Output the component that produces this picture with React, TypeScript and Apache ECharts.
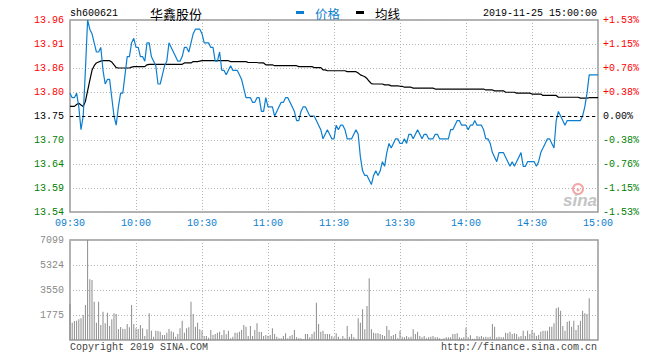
import React, { useEffect, useRef } from 'react';
import * as echarts from 'echarts';

const PREV_CLOSE = 13.75;
const STOCK_CODE = 'sh600621';
const STOCK_NAME = '华鑫股份';
const DATE_TEXT = '2019-11-25 15:00:00';
const TIME_LABELS = ['09:30', '10:00', '10:30', '11:00', '11:30', '13:30', '14:00', '14:30', '15:00'];

const price = [
  13.80, 13.79, 13.79, 13.80, 13.77, 13.72, 13.75, 13.85, 13.96, 13.94,
  13.93, 13.91, 13.89, 13.89, 13.90, 13.85, 13.82, 13.83, 13.83, 13.79,
  13.75, 13.73, 13.77, 13.80, 13.80, 13.84, 13.88, 13.88, 13.91, 13.92,
  13.90, 13.90, 13.88, 13.88, 13.87, 13.91, 13.91, 13.88, 13.87, 13.86,
  13.82, 13.82, 13.84, 13.86, 13.87, 13.91, 13.90, 13.89, 13.88, 13.87,
  13.87, 13.88, 13.90, 13.90, 13.89, 13.91, 13.93, 13.94, 13.94, 13.94,
  13.93, 13.91, 13.91, 13.91, 13.90, 13.90, 13.87, 13.87, 13.89, 13.85,
  13.85, 13.84, 13.85, 13.86, 13.85, 13.85, 13.85, 13.84, 13.83, 13.81,
  13.79, 13.79, 13.79, 13.78, 13.78, 13.79, 13.79, 13.76, 13.76, 13.79,
  13.77, 13.77, 13.77, 13.75, 13.76, 13.77, 13.78, 13.78, 13.79, 13.79,
  13.78, 13.77, 13.76, 13.74, 13.74, 13.76, 13.77, 13.77, 13.76, 13.75,
  13.75, 13.75, 13.74, 13.73, 13.72, 13.70, 13.71, 13.72, 13.71, 13.70,
  13.70, 13.73, 13.72, 13.73, 13.73, 13.72, 13.70, 13.70, 13.70, 13.71,
  13.72, 13.71, 13.66, 13.63, 13.62, 13.62, 13.61, 13.60, 13.62, 13.63,
  13.62, 13.63, 13.65, 13.64, 13.67, 13.69, 13.68, 13.69, 13.70, 13.70,
  13.69, 13.69, 13.70, 13.69, 13.71, 13.71, 13.70, 13.71, 13.72, 13.71,
  13.70, 13.71, 13.71, 13.70, 13.70, 13.70, 13.71, 13.71, 13.70, 13.70,
  13.70, 13.70, 13.70, 13.72, 13.72, 13.73, 13.74, 13.74, 13.73, 13.73,
  13.73, 13.72, 13.73, 13.73, 13.74, 13.73, 13.73, 13.73, 13.72, 13.70,
  13.70, 13.69, 13.67, 13.66, 13.65, 13.67, 13.67, 13.67, 13.66, 13.65,
  13.64, 13.65, 13.64, 13.65, 13.66, 13.67, 13.64, 13.64, 13.65, 13.65,
  13.65, 13.65, 13.64, 13.65, 13.67, 13.68, 13.69, 13.70, 13.70, 13.69,
  13.68, 13.74, 13.76, 13.75, 13.74, 13.73, 13.74, 13.74, 13.74, 13.74,
  13.74, 13.74, 13.74, 13.75, 13.77, 13.80, 13.84, 13.84, 13.84, 13.84,
  13.84,
];

const avgPrice = [
  13.771, 13.771, 13.771, 13.775, 13.778, 13.774, 13.771, 13.782, 13.805, 13.828,
  13.850, 13.860, 13.866, 13.868, 13.870, 13.871, 13.871, 13.871, 13.871, 13.868,
  13.862, 13.856, 13.855, 13.855, 13.855, 13.855, 13.855, 13.855, 13.857, 13.858,
  13.858, 13.858, 13.858, 13.858, 13.858, 13.862, 13.863, 13.863, 13.863, 13.863,
  13.863, 13.863, 13.863, 13.863, 13.863, 13.863, 13.863, 13.863, 13.863, 13.863,
  13.863, 13.863, 13.866, 13.866, 13.866, 13.866, 13.869, 13.869, 13.869, 13.870,
  13.871, 13.871, 13.871, 13.871, 13.871, 13.871, 13.871, 13.871, 13.871, 13.871,
  13.871, 13.871, 13.871, 13.869, 13.869, 13.869, 13.869, 13.869, 13.869, 13.869,
  13.869, 13.867, 13.867, 13.867, 13.867, 13.867, 13.866, 13.866, 13.866, 13.862,
  13.862, 13.862, 13.862, 13.860, 13.860, 13.860, 13.860, 13.860, 13.860, 13.860,
  13.860, 13.860, 13.860, 13.860, 13.858, 13.858, 13.858, 13.858, 13.858, 13.858,
  13.858, 13.856, 13.856, 13.856, 13.856, 13.851, 13.851, 13.849, 13.849, 13.849,
  13.849, 13.849, 13.849, 13.849, 13.849, 13.849, 13.847, 13.847, 13.847, 13.847,
  13.847, 13.844, 13.840, 13.838, 13.836, 13.832, 13.826, 13.821, 13.820, 13.820,
  13.820, 13.820, 13.820, 13.818, 13.818, 13.818, 13.816, 13.816, 13.816, 13.816,
  13.815, 13.815, 13.813, 13.813, 13.813, 13.813, 13.811, 13.811, 13.811, 13.811,
  13.811, 13.811, 13.811, 13.811, 13.811, 13.811, 13.809, 13.809, 13.809, 13.809,
  13.809, 13.809, 13.809, 13.809, 13.809, 13.809, 13.809, 13.809, 13.809, 13.809,
  13.809, 13.809, 13.809, 13.809, 13.809, 13.809, 13.809, 13.809, 13.809, 13.807,
  13.807, 13.807, 13.807, 13.805, 13.805, 13.805, 13.805, 13.805, 13.802, 13.802,
  13.802, 13.802, 13.802, 13.800, 13.800, 13.800, 13.800, 13.800, 13.800, 13.800,
  13.798, 13.798, 13.798, 13.798, 13.798, 13.795, 13.795, 13.795, 13.795, 13.795,
  13.795, 13.795, 13.791, 13.791, 13.791, 13.791, 13.791, 13.791, 13.791, 13.791,
  13.791, 13.791, 13.789, 13.789, 13.789, 13.789, 13.790, 13.790, 13.790, 13.790,
  13.790,
];

const volume = [
  2555, 1230, 1349, 1372, 1467, 1538, 1775, 2484, 7099, 4306,
  4259, 2721, 1230, 2721, 1065, 2011, 1183, 1940, 994, 1467,
  1893, 1845, 781, 923, 804, 781, 1136, 899, 2484, 1136,
  828, 781, 1065, 828, 284, 757, 1893, 662, 237, 662,
  639, 592, 355, 355, 520, 781, 615, 544, 237, 426,
  828, 1372, 520, 828, 899, 2721, 1845, 946, 1230, 757,
  662, 284, 284, 166, 710, 355, 426, 520, 592, 355,
  710, 402, 662, 118, 237, 520, 520, 592, 710, 1065,
  946, 284, 994, 284, 710, 1183, 592, 568, 284, 355,
  284, 355, 828, 426, 237, 118, 118, 284, 473, 118,
  284, 355, 710, 189, 118, 118, 71, 426, 426, 189,
  426, 592, 2650, 1136, 592, 662, 426, 426, 426, 284,
  189, 473, 237, 95, 284, 118, 994, 237, 426, 189,
  95, 1538, 1230, 2177, 757, 2413, 4377, 757, 520, 473,
  473, 426, 355, 284, 994, 710, 284, 355, 426, 118,
  662, 237, 189, 284, 189, 237, 757, 426, 592, 284,
  189, 284, 118, 189, 237, 284, 189, 189, 118, 95,
  118, 189, 189, 189, 426, 426, 473, 189, 142, 189,
  875, 189, 331, 95, 95, 284, 237, 284, 189, 237,
  189, 237, 1136, 946, 189, 237, 189, 189, 520, 473,
  592, 426, 473, 426, 237, 284, 662, 284, 662, 426,
  710, 520, 284, 355, 592, 662, 662, 662, 946, 946,
  1183, 2248, 2319, 2082, 994, 662, 1301, 1372, 946, 1372,
  710, 1065, 1372, 2082, 1893, 1845, 2958, 0, 0, 0,
  0,
];

// axis for price uses offsets from previous close in 1/10000 yuan units
const UNIT = 10000;
const PRICE_HALF_RANGE = 2100; // 0.21 yuan
const PRICE_STEP = 525;
const VOL_MAX = 7099;

const MONO = 'Liberation Mono, DejaVu Sans Mono, monospace';
const CJK = 'Noto Sans CJK SC, sans-serif';
const BLUE = '#0c7ecf';
const RED = '#ff0000';
const GREEN = '#008000';
const GRID_GRAY = '#b4b4b4';

function priceLabel(v: number) {
  const cents = Math.round(Math.abs(v) / 100);
  const sign = v > 0 ? 1 : v < 0 ? -1 : 0;
  return (PREV_CLOSE + (sign * cents) / 100).toFixed(2);
}
function pctLabel(v: number) {
  if (Math.abs(v) < 1e-6) return '0.00%';
  const pct = (v / UNIT / PREV_CLOSE) * 100;
  return (pct > 0 ? '+' : '') + pct.toFixed(2) + '%';
}
function labelColor(v: any) {
  const n = Number(v);
  if (Math.abs(n) < 1e-6) return '#000';
  return n > 0 ? RED : GREEN;
}

export default function App() {
  const ref = useRef<HTMLDivElement>(null);
  useEffect(() => {
    document.body.style.margin = '0';
    const chart = echarts.init(ref.current!, null, { renderer: 'svg' });
    const priceData = price.map((p, i) => [i, Math.round((p - PREV_CLOSE) * UNIT)]);
    const avgData = avgPrice.map((p, i) => [i, Math.round((p - PREV_CLOSE) * UNIT)]);
    const volData = volume.map((v, i) => [i, v]);

    const xBase = {
      type: 'value',
      min: 0,
      max: 240,
      interval: 30,
      axisLine: { show: false },
      axisTick: { show: false },
      splitLine: { show: true, lineStyle: { color: GRID_GRAY, type: [1, 2], width: 1 } },
    };

    const option: any = {
      animation: false,
      backgroundColor: '#fff',
      grid: [
        { left: 70, top: 20, width: 528, height: 192, show: true, borderColor: '#999', borderWidth: 1.5, backgroundColor: 'transparent' },
        { left: 70, top: 240, width: 528, height: 100, show: true, borderColor: '#999', borderWidth: 1.5, backgroundColor: 'transparent' },
      ],
      xAxis: [
        {
          ...xBase,
          gridIndex: 0,
          axisLabel: {
            show: true,
            margin: 6,
            color: BLUE,
            fontFamily: MONO,
            fontSize: 10,
            formatter: (v: number) => TIME_LABELS[Math.round(v / 30)] ?? '',
          },
        },
        { ...xBase, gridIndex: 1, axisLabel: { show: false } },
      ],
      yAxis: [
        {
          type: 'value',
          gridIndex: 0,
          min: -PRICE_HALF_RANGE,
          max: PRICE_HALF_RANGE,
          interval: PRICE_STEP,
          axisLine: { show: false },
          axisTick: { show: false },
          axisLabel: { margin: 6, fontFamily: MONO, fontSize: 10, color: labelColor, formatter: priceLabel },
          splitLine: { show: true, lineStyle: { color: GRID_GRAY, type: [1, 2], width: 1 } },
        },
        {
          type: 'value',
          gridIndex: 0,
          position: 'right',
          min: -PRICE_HALF_RANGE,
          max: PRICE_HALF_RANGE,
          interval: PRICE_STEP,
          axisLine: { show: false },
          axisTick: { show: false },
          axisLabel: { margin: 5, fontFamily: MONO, fontSize: 10, color: labelColor, formatter: pctLabel },
          splitLine: { show: false },
        },
        {
          type: 'value',
          gridIndex: 1,
          min: 0,
          max: VOL_MAX,
          interval: VOL_MAX / 4,
          axisLine: { show: false },
          axisTick: { show: false },
          axisLabel: {
            margin: 6,
            fontFamily: MONO,
            fontSize: 10,
            color: '#8a8a8a',
            formatter: (v: number) => (v < 1 ? '' : String(Math.round(v))),
          },
          splitLine: { show: true, lineStyle: { color: GRID_GRAY, type: [1, 2], width: 1 } },
        },
      ],
      series: [
        {
          type: 'line',
          name: '均线',
          xAxisIndex: 0,
          yAxisIndex: 0,
          data: avgData,
          symbol: 'none',
          lineStyle: { color: '#000', width: 1.2 },
          z: 3,
        },
        {
          type: 'line',
          name: '价格',
          xAxisIndex: 0,
          yAxisIndex: 0,
          data: priceData,
          symbol: 'none',
          lineStyle: { color: BLUE, width: 1.2 },
          z: 4,
          markLine: {
            silent: true,
            symbol: ['none', 'none'],
            label: { show: false },
            lineStyle: { color: '#000', type: [3, 3], width: 1 },
            data: [{ yAxis: 0 }],
          },
        },
        {
          type: 'bar',
          name: 'vol',
          xAxisIndex: 1,
          yAxisIndex: 2,
          data: volData,
          barWidth: 1,
          itemStyle: { color: '#8c8c8c' },
        },
      ],
      graphic: [
        { type: 'text', x: 70, y: 13, style: { text: STOCK_CODE, font: `10px ${MONO}`, fill: '#000', align: 'left', verticalAlign: 'middle', textAlign: 'left', textVerticalAlign: 'middle' } },
        { type: 'text', x: 150, y: 13, style: { text: STOCK_NAME, font: `13px ${CJK}`, fill: '#000', align: 'left', verticalAlign: 'middle', textAlign: 'left', textVerticalAlign: 'middle' } },
        { type: 'rect', shape: { x: 296, y: 11, width: 8, height: 3 }, style: { fill: BLUE } },
        { type: 'text', x: 315, y: 13, style: { text: '价格', font: `12.5px ${CJK}`, fill: BLUE, align: 'left', verticalAlign: 'middle', textAlign: 'left', textVerticalAlign: 'middle' } },
        { type: 'rect', shape: { x: 356, y: 11, width: 8, height: 3 }, style: { fill: '#000' } },
        { type: 'text', x: 375, y: 13, style: { text: '均线', font: `12.5px ${CJK}`, fill: '#000', align: 'left', verticalAlign: 'middle', textAlign: 'left', textVerticalAlign: 'middle' } },
        { type: 'text', x: 597, y: 13, style: { text: DATE_TEXT, font: `10px ${MONO}`, fill: '#000', align: 'right', verticalAlign: 'middle', textAlign: 'right', textVerticalAlign: 'middle' } },
        { type: 'text', x: 70, y: 347, style: { text: 'Copyright 2019 SINA.COM', font: `10px ${MONO}`, fill: '#444', align: 'left', verticalAlign: 'middle', textAlign: 'left', textVerticalAlign: 'middle' } },
        { type: 'text', x: 597, y: 347, style: { text: 'http://finance.sina.com.cn', font: `10px ${MONO}`, fill: '#444', align: 'right', verticalAlign: 'middle', textAlign: 'right', textVerticalAlign: 'middle' } },
        { type: 'circle', shape: { cx: 578, cy: 189, r: 5 }, style: { fill: 'none', stroke: '#f3a7a7', lineWidth: 2 }, z: 10 },
        { type: 'circle', shape: { cx: 578, cy: 190, r: 1.5 }, style: { fill: '#f3a7a7' }, z: 10 },
        { type: 'text', x: 563, y: 200, style: { text: 'sina', font: `italic bold 17px Arial, Liberation Sans, sans-serif`, fill: '#c4c4c4', align: 'left', verticalAlign: 'middle', textAlign: 'left', textVerticalAlign: 'middle' }, z: 10 },
      ],
    };
    chart.setOption(option);
    return () => chart.dispose();
  }, []);
  return <div ref={ref} style={{ width: 660, height: 360 }} />;
}
